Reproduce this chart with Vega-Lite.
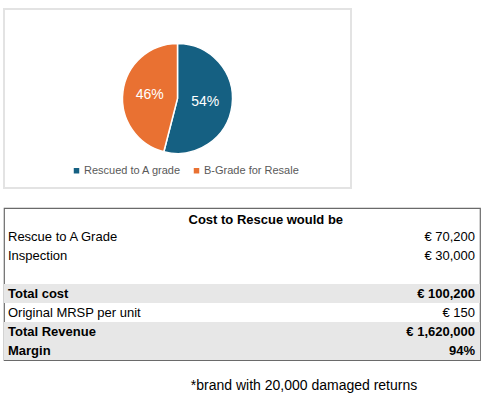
{
  "$schema": "https://vega.github.io/schema/vega-lite/v6.json",
  "padding": {"left": 3, "top": 8, "right": 0, "bottom": 0},
  "config": {
    "font": "Liberation Sans",
    "concat": {"spacing": 18},
    "view": {"stroke": null}
  },
  "vconcat": [
    {
      "width": 347,
      "height": 179,
      "view": {"stroke": "#e3e3e3", "strokeWidth": 2},
      "data": {
        "values": [
          {"category": "Rescued to A grade", "share": 0.54},
          {"category": "B-Grade for Resale", "share": 0.46}
        ]
      },
      "encoding": {
        "theta": {"field": "share", "type": "quantitative", "stack": true},
        "order": {"field": "category", "sort": "descending"},
        "color": {
          "field": "category",
          "type": "nominal",
          "scale": {"domain": ["Rescued to A grade", "B-Grade for Resale"], "range": ["#156082", "#E97132"]},
          "legend": {
            "orient": "none",
            "legendX": 67,
            "legendY": 156,
            "direction": "horizontal",
            "title": null,
            "symbolType": "square",
            "symbolSize": 30,
            "symbolStrokeWidth": 0,
            "labelFontSize": 11,
            "labelColor": "#595959",
            "labelOffset": 2,
            "columnPadding": 9
          }
        }
      },
      "layer": [
        {"mark": {"type": "arc", "outerRadius": 55, "stroke": "white", "strokeWidth": 1.5}},
        {
          "mark": {"type": "text", "radius": 28, "fill": "white", "fontSize": 14},
          "encoding": {"text": {"field": "share", "type": "quantitative", "format": ".0%"}}
        }
      ]
    },
    {
      "width": 476,
      "height": 152,
      "view": {"stroke": "#6a6a6a", "strokeWidth": 1.2},
      "title": {
        "text": "*brand with 20,000 damaged returns",
        "orient": "bottom",
        "anchor": "middle",
        "dx": 62,
        "offset": 19,
        "fontSize": 14,
        "fontWeight": "normal",
        "color": "black"
      },
      "data": {
        "values": [
          {"row": 1, "item": "Cost to Rescue would be", "amount": "", "kind": "header"},
          {"row": 2, "item": "Rescue to A Grade", "amount": "€ 70,200", "kind": "item"},
          {"row": 3, "item": "Inspection", "amount": "€ 30,000", "kind": "item"},
          {"row": 4, "item": "", "amount": "", "kind": "item"},
          {"row": 5, "item": "Total cost", "amount": "€ 100,200", "kind": "total"},
          {"row": 6, "item": "Original MRSP per unit", "amount": "€ 150", "kind": "item"},
          {"row": 7, "item": "Total Revenue", "amount": "€ 1,620,000", "kind": "total"},
          {"row": 8, "item": "Margin", "amount": "94%", "kind": "total"}
        ]
      },
      "encoding": {
        "y": {"field": "row", "type": "ordinal", "axis": null, "scale": {"paddingInner": 0, "paddingOuter": 0}}
      },
      "layer": [
        {
          "transform": [{"filter": "datum.kind === 'total'"}],
          "mark": {"type": "rect", "fill": "#e7e7e7"},
          "encoding": {
            "x": {"datum": 0, "type": "quantitative", "scale": {"domain": [0, 1]}, "axis": null},
            "x2": {"datum": 1}
          }
        },
        {
          "transform": [{"filter": "datum.kind === 'item'"}],
          "mark": {"type": "text", "align": "left", "dx": 4, "fontSize": 13, "color": "black"},
          "encoding": {"x": {"datum": 0, "type": "quantitative"}, "text": {"field": "item"}}
        },
        {
          "transform": [{"filter": "datum.kind === 'total'"}],
          "mark": {"type": "text", "align": "left", "dx": 4, "fontSize": 13, "fontWeight": "bold", "color": "black"},
          "encoding": {"x": {"datum": 0, "type": "quantitative"}, "text": {"field": "item"}}
        },
        {
          "transform": [{"filter": "datum.kind === 'item'"}],
          "mark": {"type": "text", "align": "right", "dx": -5, "fontSize": 13, "color": "black"},
          "encoding": {"x": {"datum": 1, "type": "quantitative"}, "text": {"field": "amount"}}
        },
        {
          "transform": [{"filter": "datum.kind === 'total'"}],
          "mark": {"type": "text", "align": "right", "dx": -5, "fontSize": 13, "fontWeight": "bold", "color": "black"},
          "encoding": {"x": {"datum": 1, "type": "quantitative"}, "text": {"field": "amount"}}
        },
        {
          "transform": [{"filter": "datum.kind === 'header'"}],
          "mark": {"type": "text", "align": "center", "dy": 2, "fontSize": 13, "fontWeight": "bold", "color": "black"},
          "encoding": {"x": {"datum": 0.55, "type": "quantitative"}, "text": {"field": "item"}}
        }
      ]
    }
  ]
}
